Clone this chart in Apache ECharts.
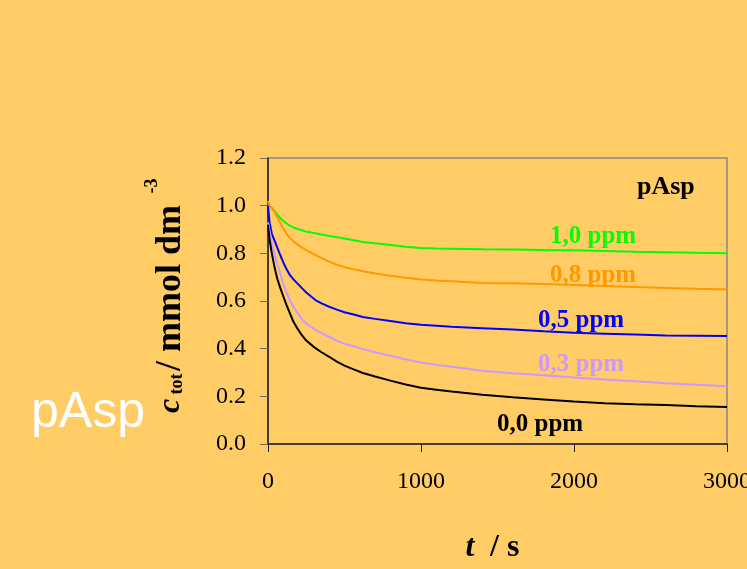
<!DOCTYPE html>
<html>
<head>
<meta charset="utf-8">
<script src="https://cdn.jsdelivr.net/npm/echarts@6/dist/echarts.min.js"></script>
<style>
html,body{margin:0;padding:0;background:#FFCC66;}
#chart{width:747px;height:569px;}
</style>
</head>
<body>
<div id="chart"></div>
<script>
// time axis (s)
const times = [0, 10, 25, 45, 60, 80, 100, 120, 140, 165, 190, 220, 250, 280, 310, 350, 400, 450, 500, 560, 620, 700, 800, 900, 1000, 1100, 1200, 1400, 1600, 1800, 2000, 2200, 2400, 2600, 2800, 3000];
// c_tot (mmol dm^-3) for each pAsp concentration
const ppm10 = [1.005, 1.0, 0.99, 0.976, 0.963, 0.948, 0.936, 0.926, 0.917, 0.909, 0.903, 0.897, 0.891, 0.888, 0.884, 0.879, 0.873, 0.868, 0.862, 0.855, 0.848, 0.842, 0.835, 0.828, 0.822, 0.82, 0.819, 0.817, 0.816, 0.814, 0.813, 0.81, 0.807, 0.805, 0.802, 0.80];
const ppm08 = [1.02, 1.0, 0.99, 0.97, 0.952, 0.927, 0.905, 0.884, 0.866, 0.852, 0.838, 0.825, 0.813, 0.803, 0.793, 0.78, 0.765, 0.752, 0.742, 0.733, 0.725, 0.715, 0.706, 0.698, 0.69, 0.686, 0.683, 0.676, 0.674, 0.671, 0.667, 0.663, 0.659, 0.655, 0.651, 0.648];
const ppm05 = [1.0, 0.93, 0.882, 0.85, 0.825, 0.793, 0.762, 0.735, 0.712, 0.692, 0.675, 0.655, 0.636, 0.62, 0.604, 0.59, 0.576, 0.564, 0.553, 0.543, 0.533, 0.525, 0.516, 0.507, 0.50, 0.496, 0.492, 0.486, 0.48, 0.473, 0.467, 0.463, 0.459, 0.455, 0.454, 0.453];
const ppm03 = [0.93, 0.895, 0.845, 0.79, 0.757, 0.715, 0.672, 0.637, 0.607, 0.577, 0.553, 0.525, 0.505, 0.492, 0.479, 0.465, 0.45, 0.434, 0.42, 0.41, 0.398, 0.385, 0.37, 0.355, 0.342, 0.332, 0.324, 0.307, 0.297, 0.288, 0.279, 0.271, 0.263, 0.255, 0.249, 0.242];
const ppm00 = [0.92, 0.86, 0.80, 0.735, 0.695, 0.655, 0.62, 0.585, 0.553, 0.515, 0.487, 0.458, 0.434, 0.418, 0.402, 0.385, 0.366, 0.346, 0.329, 0.313, 0.298, 0.283, 0.266, 0.25, 0.236, 0.228, 0.22, 0.207, 0.196, 0.187, 0.178, 0.171, 0.167, 0.164, 0.158, 0.155];

const seriesNames = ['1,0 ppm', '0,8 ppm', '0,5 ppm', '0,3 ppm', '0,0 ppm'];
const seriesValues = [ppm10, ppm08, ppm05, ppm03, ppm00];
const seriesColors = ['#00FF00', '#FF9900', '#0000FF', '#CC99FF', '#000000'];
const xTicks = [0, 1000, 2000, 3000];
const yTicks = [0.0, 0.2, 0.4, 0.6, 0.8, 1.0, 1.2];

const serif = '"Liberation Serif", "Times New Roman", serif';
const chart = echarts.init(document.getElementById('chart'));

const series = seriesValues.map((vals, i) => ({
  name: seriesNames[i],
  type: 'line',
  data: times.map((t, j) => [t, vals[j]]),
  showSymbol: false,
  lineStyle: { color: seriesColors[i], width: 2 },
  itemStyle: { color: seriesColors[i] },
  animation: false,
  z: 3
}));

// curve labels
const labelPos = [
  { x: 550, y: 236 }, { x: 550, y: 275 }, { x: 538, y: 320 }, { x: 538, y: 364 }, { x: 497, y: 424 }
];
const graphics = seriesNames.map((n, i) => ({
  type: 'text', left: labelPos[i].x, top: labelPos[i].y - 12, z: 10,
  style: { text: n, fill: seriesColors[i], font: 'bold 25px ' + serif }
}));
graphics.push({ type: 'text', left: 637, top: 174, z: 10,
  style: { text: 'pAsp', fill: '#000', font: 'bold 26px ' + serif } });
graphics.push({ type: 'text', left: 31, top: 388, z: 10,
  style: { text: 'pAsp', fill: '#FFFFFF', font: '50px "Liberation Sans", Arial, sans-serif' } });
// y axis title (rotated pieces)
graphics.push({ type: 'text', x: 171, y: 406, rotation: Math.PI / 2, z: 10,
  style: { text: 'c', fill: '#000', font: 'italic bold 32px ' + serif, align: 'center', verticalAlign: 'middle' } });
graphics.push({ type: 'text', x: 177, y: 384, rotation: Math.PI / 2, z: 10,
  style: { text: 'tot', fill: '#000', font: 'bold 18px ' + serif, align: 'center', verticalAlign: 'middle' } });
graphics.push({ type: 'text', x: 171, y: 288, rotation: Math.PI / 2, z: 10,
  style: { text: '/ mmol dm', fill: '#000', font: 'bold 36px ' + serif, align: 'center', verticalAlign: 'middle' } });
graphics.push({ type: 'text', x: 152, y: 186, rotation: Math.PI / 2, z: 10,
  style: { text: '-3', fill: '#000', font: 'bold 18px ' + serif, align: 'center', verticalAlign: 'middle' } });
// x axis title
graphics.push({ type: 'text', x: 470, y: 548, z: 10,
  style: { text: 't', fill: '#000', font: 'italic bold 32px ' + serif, align: 'center', verticalAlign: 'middle' } });
graphics.push({ type: 'text', x: 490, y: 548, z: 10,
  style: { text: '/ s', fill: '#000', font: 'bold 32px ' + serif, align: 'left', verticalAlign: 'middle' } });

chart.setOption({
  backgroundColor: '#FFCC66',
  animation: false,
  grid: { left: 268, right: 20, top: 158, bottom: 125, show: true, borderColor: '#888888', borderWidth: 1.5, backgroundColor: 'transparent', containLabel: false, outerBoundsMode: 'none' },
  xAxis: {
    type: 'value', min: xTicks[0], max: xTicks[xTicks.length - 1], interval: 1000,
    axisLine: { show: true, lineStyle: { color: '#222', width: 1.5 } },
    axisTick: { show: true, inside: false, length: 8, lineStyle: { color: '#222' } },
    axisLabel: { color: '#000', fontFamily: serif, fontSize: 24, margin: 26, formatter: v => String(v), showMaxLabel: true, hideOverlap: false },
    splitLine: { show: false }
  },
  yAxis: {
    type: 'value', min: yTicks[0], max: yTicks[yTicks.length - 1], interval: 0.2,
    axisLine: { show: true, lineStyle: { color: '#222', width: 1.5 } },
    axisTick: { show: true, inside: false, length: 8, lineStyle: { color: '#7a6a50' } },
    axisLabel: { color: '#000', fontFamily: serif, fontSize: 24, margin: 22, formatter: v => v.toFixed(1) },
    splitLine: { show: false }
  },
  series: series,
  graphic: graphics
});
</script>
</body>
</html>
